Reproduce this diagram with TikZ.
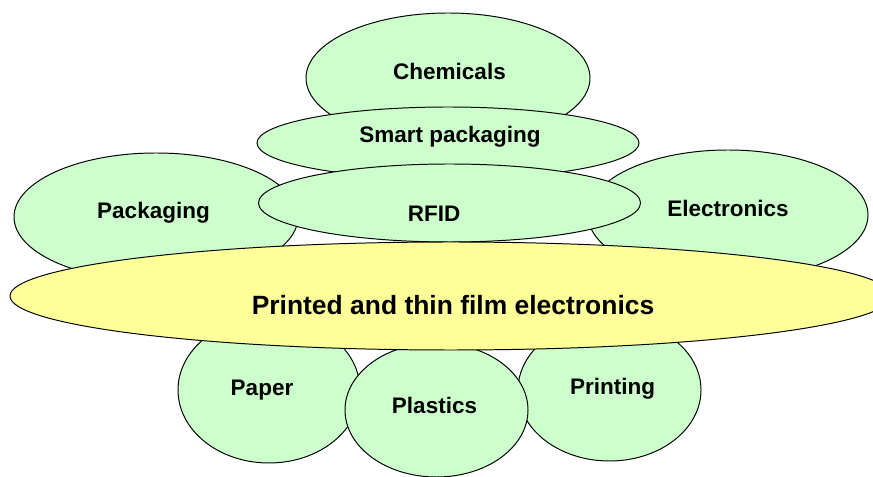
\documentclass[tikz,border=0pt]{standalone}
\usepackage{fontspec}
\setmainfont{Liberation Sans}
\definecolor{leafgreen}{HTML}{CCFFCC}
\definecolor{lemon}{HTML}{FFFF99}
\begin{document}
\begin{tikzpicture}[x=0.025cm, y=-0.025cm,
    blob/.style={draw=black, fill=leafgreen, line width=0.7pt},
    core/.style={draw=black, fill=lemon, line width=0.7pt},
    field/.style={anchor=base, font=\bfseries\fontsize{16}{19}\selectfont},
    topic/.style={anchor=base, font=\bfseries\fontsize{18.8}{22}\selectfont}]

    \useasboundingbox (0,0) rectangle (873,477);

    % Side fields
    \draw[blob] (156,217) ellipse [x radius=142, y radius=64];
    \node[field] (packaging) at (153.5,219) {Packaging};
    \draw[blob] (728,215) ellipse [x radius=140, y radius=65];
    \node[field] (electronics) at (728,217) {Electronics};

    % Upper stack
    \draw[blob] (448,78) ellipse [x radius=142, y radius=65];
    \node[field] (chemicals) at (449.5,80) {Chemicals};
    \draw[blob] (448,143) ellipse [x radius=191, y radius=36];
    \node[field] (smart) at (450,143) {Smart packaging};
    \draw[blob] (449.5,203) ellipse [x radius=191, y radius=39];
    \node[field] (rfid) at (434,222) {RFID};

    % Lower fields
    \draw[blob] (269,390) ellipse [x radius=91, y radius=73];
    \node[field] (paper) at (262,396) {Paper};
    \draw[blob] (609.5,390) ellipse [x radius=91.5, y radius=71];
    \node[field] (printing) at (612.5,395) {Printing};
    \draw[blob] (436.5,410) ellipse [x radius=91.5, y radius=67];
    \node[field] (plastics) at (434.5,413) {Plastics};

    % Central ellipse
    \draw[core] (451,296) ellipse [x radius=441, y radius=54];
    \node[topic] (printed) at (453,315) {Printed and thin film electronics};

\end{tikzpicture}
\end{document}
